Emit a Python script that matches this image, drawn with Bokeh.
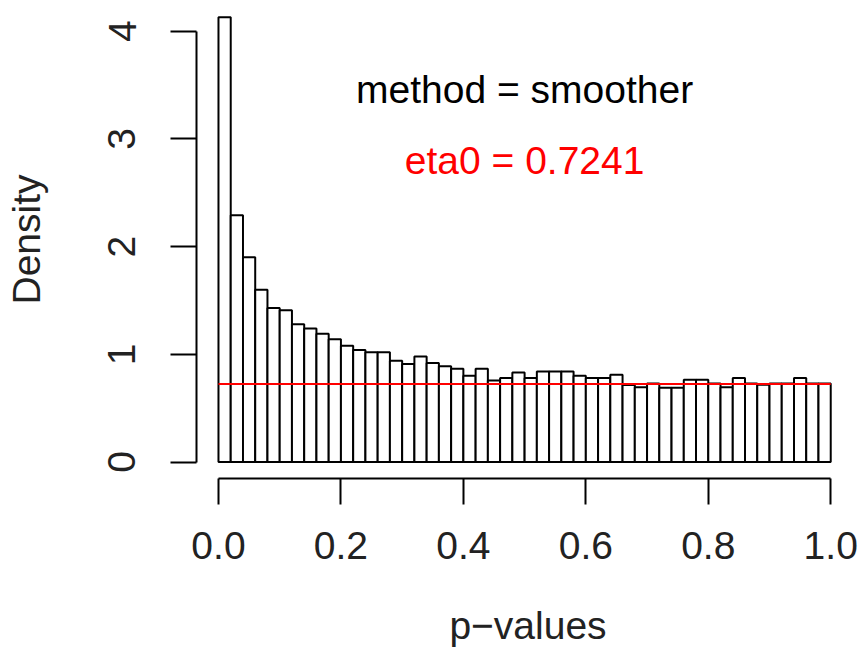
import numpy as np
from bokeh.plotting import figure
from bokeh.models import Range1d, FixedTicker, NumeralTickFormatter
from bokeh.core.properties import value
from bokeh.embed import file_html
from bokeh.resources import INLINE

# ---- data ----
breaks = [round(i * 0.02, 2) for i in range(51)]
density = [4.13, 2.29, 1.90, 1.60, 1.43, 1.41, 1.28, 1.24, 1.19, 1.14,
           1.08, 1.04, 1.02, 1.02, 0.94, 0.91, 0.98, 0.92, 0.89, 0.865,
           0.80, 0.865, 0.757, 0.78, 0.83, 0.78, 0.84, 0.84, 0.84, 0.80,
           0.78, 0.78, 0.81, 0.715, 0.695, 0.73, 0.69, 0.69, 0.763, 0.763,
           0.73, 0.695, 0.78, 0.73, 0.717, 0.73, 0.73, 0.78, 0.73, 0.73]
eta0 = 0.7241
x_ticks = [0.0, 0.2, 0.4, 0.6, 0.8, 1.0]
y_ticks = [0, 1, 2, 3, 4]
method_text = "method = smoother"
eta_text = "eta0 = 0.7241"
x_label = "p\u2212values"
y_label = "Density"

FONT = "Liberation Sans"
FS = "39px"

p = figure(width=859, height=650, output_backend="svg", toolbar_location=None,
           x_range=Range1d(-0.0359, 1.047), y_range=Range1d(-0.1532, 4.285),
           min_border_left=196, min_border_right=0, min_border_top=0,
           min_border_bottom=172)
p.outline_line_color = None
p.grid.visible = False
p.background_fill_color = "white"
p.border_fill_color = "white"

p.quad(left=breaks[:-1], right=breaks[1:], top=density, bottom=0,
       fill_color="white", line_color="black", line_width=2)
p.segment(x0=[breaks[0]], x1=[breaks[-1]], y0=[eta0], y1=[eta0],
          line_color="red", line_width=2)

p.text(x=[0.5], y=[3.46], text=[method_text], text_align="center",
       text_baseline="alphabetic", text_font=value(FONT), text_font_size=FS,
       text_color="black")
p.text(x=[0.5], y=[2.80], text=[eta_text], text_align="center",
       text_baseline="alphabetic", text_font=value(FONT), text_font_size=FS,
       text_color="red")

for ax in (p.xaxis[0], p.yaxis[0]):
    ax.axis_line_width = 2
    ax.axis_line_color = "black"
    ax.major_tick_line_width = 2
    ax.major_tick_line_color = "black"
    ax.major_tick_out = 26
    ax.major_tick_in = 0
    ax.minor_tick_line_color = None
    ax.major_label_text_font = FONT
    ax.major_label_text_font_size = FS
    ax.major_label_text_color = "#222222"
    ax.axis_label_text_font = FONT
    ax.axis_label_text_font_size = FS
    ax.axis_label_text_font_style = "normal"
    ax.axis_label_text_color = "#222222"

p.xaxis[0].bounds = (x_ticks[0], x_ticks[-1])
p.xaxis[0].ticker = FixedTicker(ticks=x_ticks)
p.xaxis[0].formatter = NumeralTickFormatter(format="0.0")
p.xaxis[0].axis_label = x_label
p.xaxis[0].major_label_standoff = 27
p.xaxis[0].axis_label_standoff = 42

p.yaxis[0].bounds = (y_ticks[0], y_ticks[-1])
p.yaxis[0].ticker = FixedTicker(ticks=y_ticks)
p.yaxis[0].major_label_orientation = "parallel"
p.yaxis[0].axis_label = y_label
p.yaxis[0].major_label_standoff = 35
p.yaxis[0].axis_label_standoff = 58

open("out.html", "w").write(file_html(p, INLINE))
